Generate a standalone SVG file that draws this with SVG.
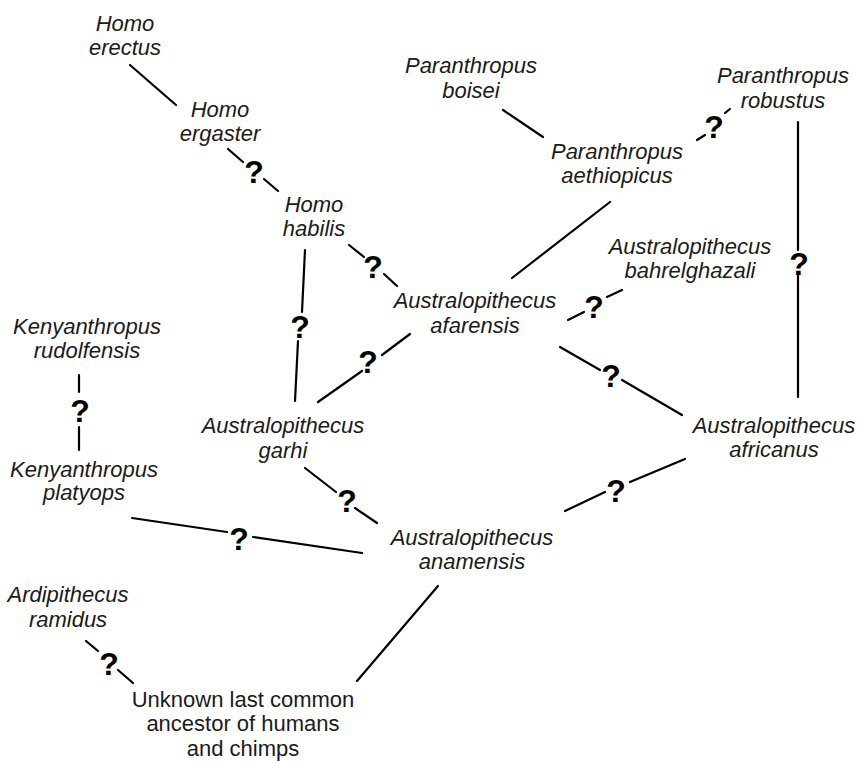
<svg xmlns="http://www.w3.org/2000/svg" width="857" height="761" viewBox="0 0 857 761">
<style>
.n{font-family:"Liberation Sans",Arial,sans-serif;font-size:22px;font-style:italic;fill:#1a1a1a;text-anchor:middle}
.u{font-style:normal}
.q{font-family:"Liberation Sans",Arial,sans-serif;font-size:32px;font-weight:bold;fill:#000;text-anchor:middle}
#connectors line{stroke:#000;stroke-width:2.2;stroke-linecap:round}
</style>
<rect width="857" height="761" fill="#fff"/>
<g id="connectors">
<line x1="130" y1="65" x2="176" y2="105"/>
<line x1="228" y1="149" x2="243" y2="162"/>
<line x1="264" y1="179" x2="278" y2="191"/>
<text class="q" x="254" y="183">?</text>
<line x1="349" y1="245" x2="364" y2="257"/>
<line x1="384" y1="274" x2="397" y2="286"/>
<text class="q" x="373" y="278">?</text>
<line x1="305" y1="250" x2="302" y2="312"/>
<line x1="298" y1="341" x2="295" y2="401"/>
<text class="q" x="300" y="338">?</text>
<line x1="318" y1="402" x2="362" y2="371"/>
<line x1="382" y1="355" x2="410" y2="334"/>
<text class="q" x="368" y="373">?</text>
<line x1="503" y1="110" x2="543" y2="137"/>
<line x1="697" y1="140" x2="705" y2="135"/>
<line x1="725" y1="113" x2="730" y2="109"/>
<text class="q" x="714" y="138">?</text>
<line x1="610" y1="202" x2="512" y2="278"/>
<line x1="798" y1="122" x2="798" y2="250"/>
<line x1="798" y1="275" x2="798" y2="397"/>
<text class="q" x="799" y="275">?</text>
<line x1="568" y1="320" x2="584" y2="312"/>
<line x1="607" y1="297" x2="622" y2="290"/>
<text class="q" x="594" y="318">?</text>
<line x1="560" y1="347" x2="600" y2="370"/>
<line x1="622" y1="380" x2="682" y2="415"/>
<text class="q" x="611" y="387">?</text>
<line x1="685" y1="459" x2="630" y2="482"/>
<line x1="605" y1="492" x2="565" y2="511"/>
<text class="q" x="616" y="502">?</text>
<line x1="305" y1="468" x2="336" y2="492"/>
<line x1="355" y1="508" x2="377" y2="523"/>
<text class="q" x="347" y="512">?</text>
<line x1="79" y1="375" x2="79" y2="392"/>
<line x1="79" y1="427" x2="79" y2="450"/>
<text class="q" x="80" y="422">?</text>
<line x1="132" y1="518" x2="227" y2="532"/>
<line x1="253" y1="537" x2="362" y2="553"/>
<text class="q" x="239" y="550">?</text>
<line x1="438" y1="586" x2="357" y2="681"/>
<line x1="86" y1="641" x2="98" y2="651"/>
<line x1="118" y1="670" x2="133" y2="683"/>
<text class="q" x="109" y="675">?</text>
</g>
<g id="homo-erectus"><text class="n" x="125" y="31">Homo</text><text class="n" x="125" y="55">erectus</text></g>
<g id="homo-ergaster"><text class="n" x="220" y="117">Homo</text><text class="n" x="220" y="141">ergaster</text></g>
<g id="homo-habilis"><text class="n" x="314" y="212">Homo</text><text class="n" x="314" y="236">habilis</text></g>
<g id="paranthropus-boisei"><text class="n" x="471" y="73">Paranthropus</text><text class="n" x="471" y="98">boisei</text></g>
<g id="paranthropus-robustus"><text class="n" x="783" y="83">Paranthropus</text><text class="n" x="783" y="108">robustus</text></g>
<g id="paranthropus-aethiopicus"><text class="n" x="617" y="159">Paranthropus</text><text class="n" x="617" y="183">aethiopicus</text></g>
<g id="australopithecus-bahrelghazali"><text class="n" x="690" y="254">Australopithecus</text><text class="n" x="690" y="278">bahrelghazali</text></g>
<g id="australopithecus-afarensis"><text class="n" x="475" y="308">Australopithecus</text><text class="n" x="475" y="333">afarensis</text></g>
<g id="kenyanthropus-rudolfensis"><text class="n" x="87" y="334">Kenyanthropus</text><text class="n" x="87" y="358">rudolfensis</text></g>
<g id="australopithecus-garhi"><text class="n" x="283" y="433">Australopithecus</text><text class="n" x="283" y="458">garhi</text></g>
<g id="australopithecus-africanus"><text class="n" x="774" y="433">Australopithecus</text><text class="n" x="774" y="457">africanus</text></g>
<g id="kenyanthropus-platyops"><text class="n" x="84" y="477">Kenyanthropus</text><text class="n" x="84" y="500">platyops</text></g>
<g id="australopithecus-anamensis"><text class="n" x="472" y="545">Australopithecus</text><text class="n" x="472" y="569">anamensis</text></g>
<g id="ardipithecus-ramidus"><text class="n" x="68" y="602">Ardipithecus</text><text class="n" x="68" y="627">ramidus</text></g>
<g id="unknown-lca"><text class="n u" x="243" y="706.5">Unknown last common</text><text class="n u" x="243" y="731.3">ancestor of humans</text><text class="n u" x="243" y="756">and chimps</text></g>
</svg>
